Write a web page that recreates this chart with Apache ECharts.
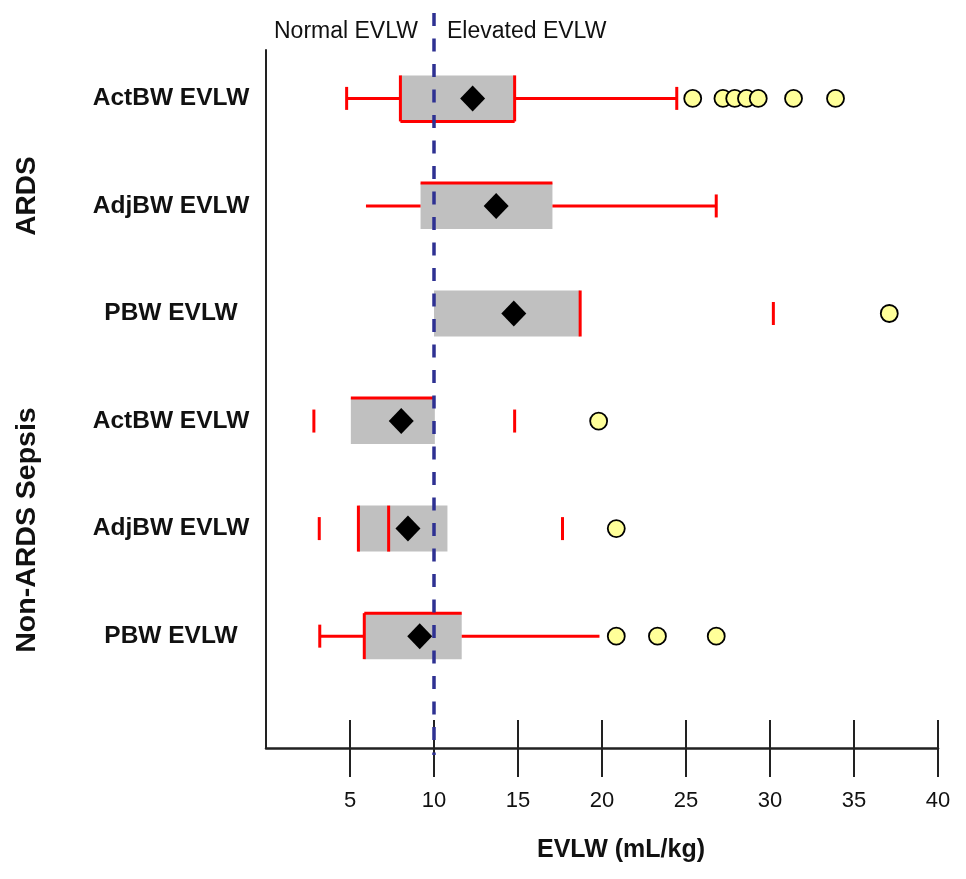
<!DOCTYPE html>
<html>
<head>
<meta charset="utf-8">
<script src="https://cdn.jsdelivr.net/npm/echarts@6/dist/echarts.min.js"></script>
<style>
  html, body { margin: 0; padding: 0; background: #fff; }
  #chart { width: 966px; height: 879px; }
</style>
</head>
<body>
<div id="chart"></div>
<script>
// ---- data ----
const categories = ['ActBW EVLW', 'AdjBW EVLW', 'PBW EVLW', 'ActBW EVLW', 'AdjBW EVLW', 'PBW EVLW'];
const groupNames = ['ARDS', 'Non-ARDS Sepsis'];
const boxLow = [8.0, 9.2, 10.0, 5.05, 5.5, 5.85];
const boxHigh = [14.8, 17.05, 18.7, 10.05, 10.8, 11.65];
const innerLine = [null, null, null, null, 7.3, null];
const means = [12.3, 13.7, 14.75, 8.05, 8.45, 9.15];
const whiskerLow = [4.8, 5.95, null, null, null, 3.2];
const whiskerHigh = [24.45, 26.8, null, null, null, 19.85];
const capLow = [4.8, null, null, 2.85, 3.17, 3.2];
const capHigh = [24.45, 26.8, 30.2, 14.8, 17.65, null];
const outliers = [
  [25.4, 27.2, 27.9, 28.6, 29.3, 31.4, 33.9],
  [],
  [37.1],
  [19.8],
  [20.85],
  [20.85, 23.3, 26.8]
];
const refValue = 10;
const refLabels = ['Normal EVLW', 'Elevated EVLW'];
const xTicks = [5, 10, 15, 20, 25, 30, 35, 40];
const xTitle = 'EVLW (mL/kg)';

// ---- styles ----
const RED = '#FF0000';
const FONT = 'Liberation Sans';
const redEdges = ['lrb', 't', 'r', 't', 'l', 'lt'];
const BOX_H = 46, CAP_H = 23;

const rows = categories.map((c, i) => i + 1);

const chart = echarts.init(document.getElementById('chart'), null, { renderer: 'canvas' });

function redLine(x1, y1, x2, y2) {
  return { type: 'line', shape: { x1, y1, x2, y2 }, style: { stroke: RED, lineWidth: 3 } };
}

const option = {
  backgroundColor: '#fff',
  animation: false,
  grid: { left: 266, right: 28, top: 50, bottom: 131 },
  xAxis: [
    {
      type: 'value', min: 0, max: 40, interval: 5, position: 'bottom',
      axisLine: { show: true, onZero: false, lineStyle: { color: '#222', width: 2.5 } },
      axisTick: { show: true, customValues: xTicks, length: 29, lineStyle: { color: '#222', width: 2 } },
      axisLabel: { customValues: xTicks, fontSize: 22, color: '#111', margin: 42, fontFamily: FONT },
      splitLine: { show: false },
      name: xTitle, nameLocation: 'middle', nameGap: 90,
      nameTextStyle: { fontSize: 25, fontWeight: 'bold', color: '#111', fontFamily: FONT, padding: [0, 0, 0, 38] }
    },
    {
      type: 'value', min: 0, max: 40, interval: 5, position: 'bottom',
      axisLine: { show: false, onZero: false },
      axisTick: { show: true, inside: true, customValues: xTicks, length: 28, lineStyle: { color: '#222', width: 2 } },
      axisLabel: { show: false },
      splitLine: { show: false }
    }
  ],
  yAxis: {
    type: 'value', min: 0.55, max: 7.04, inverse: true,
    axisLine: { show: true, onZero: false, lineStyle: { color: '#222', width: 2 } },
    axisTick: { show: false },
    splitLine: { show: false },
    axisLabel: {
      customValues: rows,
      formatter: v => categories[Math.round(v) - 1],
      fontSize: 24.5, fontWeight: 'bold', color: '#111', fontFamily: FONT,
      align: 'center', margin: 95
    }
  },
  graphic: [
    { type: 'text', x: 27, y: 196, rotation: Math.PI / 2,
      style: { text: groupNames[0], font: 'bold 28px "Liberation Sans"', fill: '#111', textAlign: 'center', textVerticalAlign: 'middle' } },
    { type: 'text', x: 27, y: 530, rotation: Math.PI / 2,
      style: { text: groupNames[1], font: 'bold 28.5px "Liberation Sans"', fill: '#111', textAlign: 'center', textVerticalAlign: 'middle' } }
  ],
  series: [
    {
      type: 'custom', name: 'boxes', clip: false, z: 2,
      data: rows.map((r, i) => [boxLow[i], r, boxHigh[i]]),
      encode: { x: [0, 2], y: 1 },
      renderItem: function (params, api) {
        const i = params.dataIndex;
        const r = rows[i];
        const p1 = api.coord([boxLow[i], r]);
        const p3 = api.coord([boxHigh[i], r]);
        const cy = p1[1];
        const top = cy - BOX_H / 2, bot = cy + BOX_H / 2;
        const children = [];
        children.push({ type: 'rect', shape: { x: p1[0], y: top, width: p3[0] - p1[0], height: BOX_H }, style: { fill: '#C0C0C0' } });
        const e = redEdges[i];
        if (e.indexOf('l') >= 0) children.push(redLine(p1[0], top, p1[0], bot));
        if (e.indexOf('r') >= 0) children.push(redLine(p3[0], top, p3[0], bot));
        if (e.indexOf('t') >= 0) children.push(redLine(p1[0], top, p3[0], top));
        if (e.indexOf('b') >= 0) children.push(redLine(p1[0], bot, p3[0], bot));
        if (innerLine[i] != null) {
          const pm = api.coord([innerLine[i], r]);
          children.push(redLine(pm[0], top, pm[0], bot));
        }
        if (whiskerLow[i] != null) {
          const pw = api.coord([whiskerLow[i], r]);
          children.push(redLine(pw[0], cy, p1[0], cy));
        }
        if (whiskerHigh[i] != null) {
          const pw = api.coord([whiskerHigh[i], r]);
          children.push(redLine(p3[0], cy, pw[0], cy));
        }
        if (capLow[i] != null) {
          const pc = api.coord([capLow[i], r]);
          children.push(redLine(pc[0], cy - CAP_H / 2, pc[0], cy + CAP_H / 2));
        }
        if (capHigh[i] != null) {
          const pc = api.coord([capHigh[i], r]);
          children.push(redLine(pc[0], cy - CAP_H / 2, pc[0], cy + CAP_H / 2));
        }
        return { type: 'group', children };
      }
    },
    {
      type: 'custom', name: 'reference', clip: false, z: 3,
      data: [[refValue, rows[0]]],
      encode: { x: 0, y: 1 },
      renderItem: function (params, api) {
        const pTop = api.coord([refValue, 0.55]);
        const pBot = api.coord([refValue, 7.04]);
        const x = pTop[0];
        return {
          type: 'group', children: [
            { type: 'line', shape: { x1: x, y1: pTop[1] - 37, x2: x, y2: pBot[1] + 7 },
              style: { stroke: '#2E3192', lineWidth: 3.5, lineDash: [13, 12.5] } },
            { type: 'text', x: x - 16, y: pTop[1] - 18,
              style: { text: refLabels[0], font: '23px "Liberation Sans"', fill: '#111', textAlign: 'right', textVerticalAlign: 'middle' } },
            { type: 'text', x: x + 13, y: pTop[1] - 18,
              style: { text: refLabels[1], font: '23px "Liberation Sans"', fill: '#111', textAlign: 'left', textVerticalAlign: 'middle' } }
          ]
        };
      }
    },
    {
      type: 'scatter', name: 'mean', z: 4,
      symbol: 'diamond', symbolSize: [25, 26],
      itemStyle: { color: '#000', opacity: 1 },
      data: rows.map((r, i) => [means[i], r])
    },
    {
      type: 'scatter', name: 'outliers', z: 5,
      symbol: 'circle', symbolSize: 17,
      itemStyle: { color: '#FFFF99', borderColor: '#000', borderWidth: 1.8, opacity: 1 },
      data: outliers.flatMap((list, i) => list.map(v => [v, rows[i]]))
    }
  ]
};

chart.setOption(option);
</script>
</body>
</html>
